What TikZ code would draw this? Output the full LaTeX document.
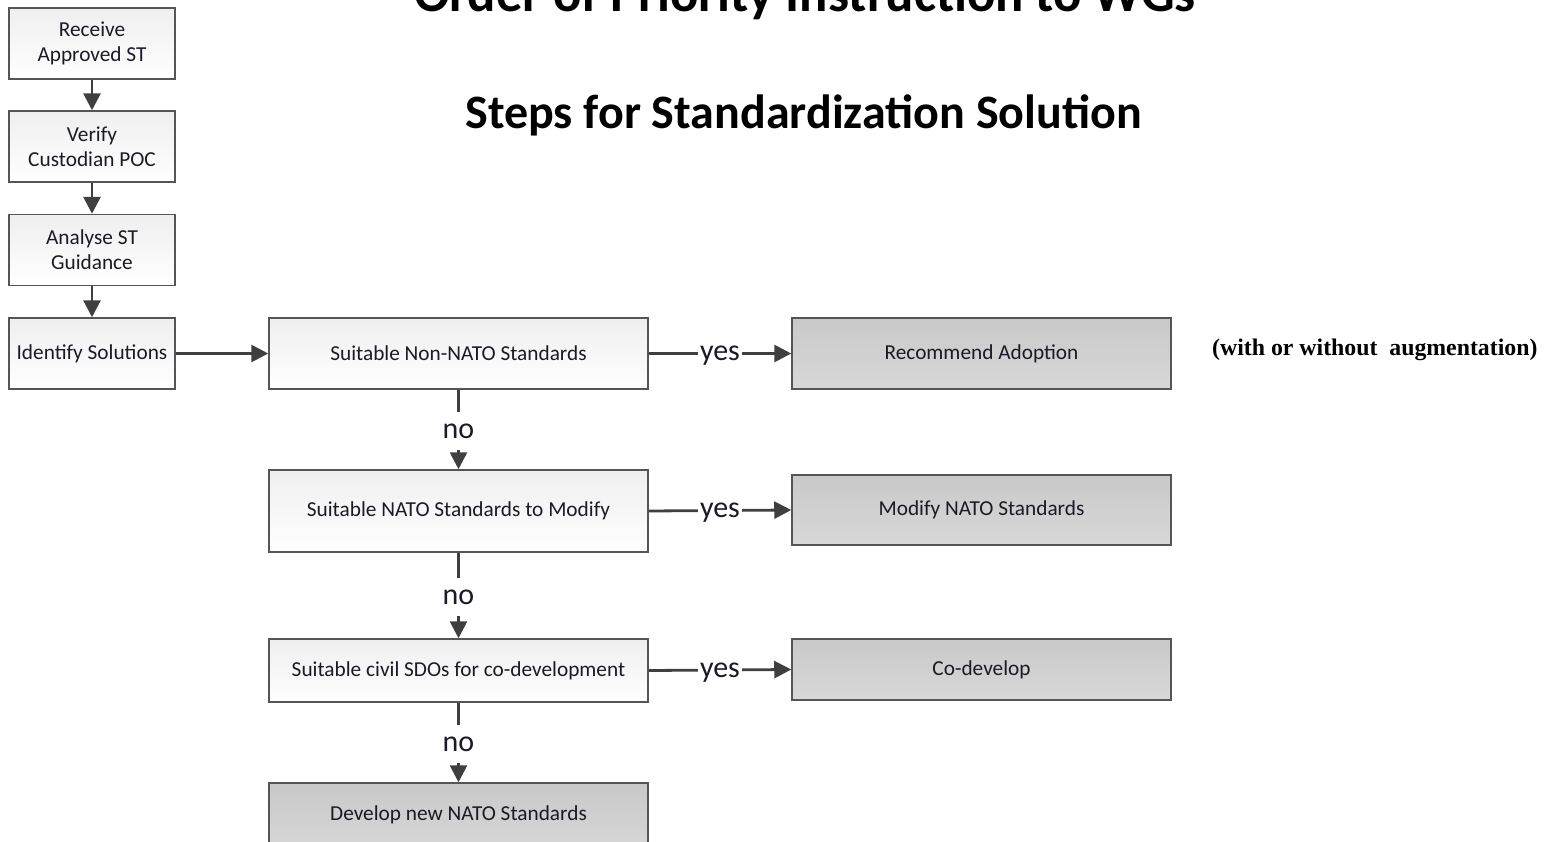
\documentclass[tikz,border=0pt]{standalone}
\usepackage{fontspec}
\usetikzlibrary{arrows.meta}
\newfontfamily\carlito{Carlito}
\newfontfamily\libserif{Liberation Serif}
\definecolor{boxline}{HTML}{555555}
\definecolor{arrcol}{HTML}{3F3F3F}
\definecolor{txt}{HTML}{1A1A28}
\definecolor{lighttop}{HTML}{EFEFEF}
\definecolor{graytop}{HTML}{C9C9C9}
\definecolor{graybot}{HTML}{D8D8D8}
\tikzset{
  box/.style={draw=boxline, line width=1.5pt, top color=lighttop, bottom color=white,
    font=\carlito\fontsize{21.3}{25}\selectfont, text=txt, inner sep=0pt, align=center},
  gbox/.style={box, top color=graytop, bottom color=graybot},
  lbox/.style={box, minimum width=166pt, minimum height=71pt},
  mbox/.style={box, minimum width=379pt},
  rbox/.style={gbox, minimum width=379pt},
  arr/.style={-{Triangle[length=17pt,width=17pt]}, line width=2.8pt, draw=arrcol},
  lab/.style={fill=white, font=\carlito\fontsize{30}{32}\selectfont, text=txt, inner xsep=2pt, inner ysep=0pt, text depth=0pt},
  nolab/.style={lab, minimum height=38pt},
  titlefont/.style={font=\carlito\bfseries\fontsize{48}{50}\selectfont, text=black}
}
\begin{document}
\begin{tikzpicture}[x=1pt,y=-1pt]
\useasboundingbox (0,0) rectangle (1558,841);
% titles
\node[titlefont, font=\carlito\bfseries\fontsize{52.8}{55}\selectfont, anchor=base] (t1) at (805,11) {Order of Priority Instruction to WGs};
\node[titlefont, anchor=base] (t2) at (803.5,128) {Steps for Standardization Solution};
% left column
\node[lbox] (rcv) at (92,43.5) {Receive\\Approved ST};
\node[lbox] (ver) at (92,146.5) {Verify\\Custodian POC};
\node[lbox] (ana) at (92,250) {Analyse ST\\Guidance};
\node[lbox] (idf) at (92,353.5) {Identify Solutions};
% middle column
\node[mbox, minimum height=71pt] (nn) at (458.5,353.5) {Suitable Non-NATO Standards};
\node[mbox, minimum height=82pt] (nm) at (458.5,511) {Suitable NATO Standards to Modify};
\node[mbox, minimum height=63pt] (civ) at (458.5,670.5) {Suitable civil SDOs for co-development};
\node[rbox, minimum height=72pt, text depth=0pt] (dev) at (458.5,819) {\raisebox{12pt}{Develop new NATO Standards}};
% right column
\node[rbox, minimum height=71pt] (ra) at (981.5,353.5) {Recommend Adoption};
\node[rbox, minimum height=70pt] (mn) at (981.5,510) {Modify NATO Standards};
\node[rbox, minimum height=61pt] (cod) at (981.5,669.5) {Co-develop};
% note
\node[anchor=base west, font=\libserif\bfseries\fontsize{23.8}{25}\selectfont, text=black, inner sep=0pt] (note) at (1212,355) {(with or without~~augmentation)};
% connectors
\draw[arr] (rcv) -- (ver);
\draw[arr] (ver) -- (ana);
\draw[arr] (ana) -- (idf);
\draw[arr] (idf) -- (nn);
\draw[arr] (nn) -- node[lab] {yes} (ra);
\draw[arr] (nm.east) -- node[lab] {yes} (mn.west);
\draw[arr] (civ.east) -- node[lab] {yes} (cod.west);
\draw[arr] (nn) -- node[nolab, yshift=-1.5pt] {no} (nm);
\draw[arr] (nm) -- node[nolab, yshift=-1.5pt] {no} (civ);
\draw[arr] (civ) -- node[nolab, yshift=-1.5pt] {no} (dev);
\end{tikzpicture}
\end{document}
